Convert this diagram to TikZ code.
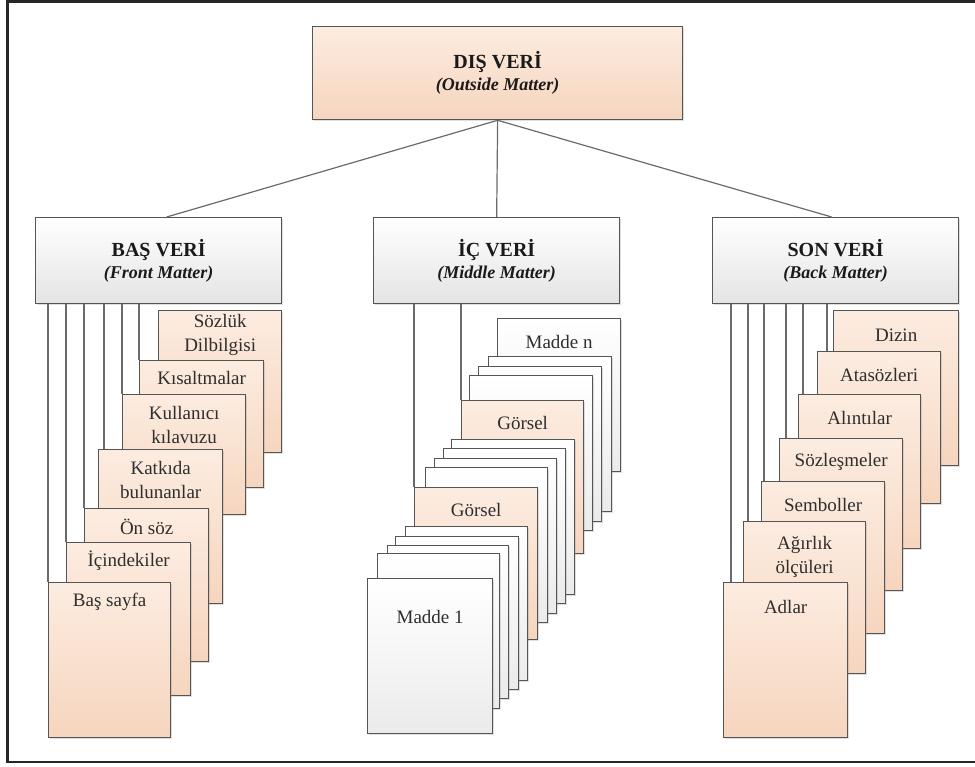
\documentclass[tikz,border=0pt]{standalone}
\usepackage{fontspec}
\setmainfont{Liberation Serif}
\usetikzlibrary{shadows}

\definecolor{peachtop}{HTML}{FCECE0}
\definecolor{peachbot}{HTML}{F6D5BE}
\definecolor{greytop}{HTML}{FFFFFF}
\definecolor{greybot}{HTML}{E4E4E4}
\definecolor{whitebot}{HTML}{EBEBEB}
\definecolor{edge}{HTML}{555555}
\definecolor{wire}{HTML}{6A6A6A}
\definecolor{ink}{HTML}{2E2E2E}
\definecolor{headink}{HTML}{1A1A1A}

\tikzset{
  boxbase/.style={rectangle, draw=edge, line width=1.3pt, inner sep=0pt,
    anchor=north west,
    drop shadow={shadow xshift=1.2pt, shadow yshift=-1.2pt, opacity=0.25}},
  peach/.style={boxbase, top color=peachtop, bottom color=peachbot},
  greyhead/.style={boxbase, top color=greytop, bottom color=greybot},
  whitecard/.style={boxbase, top color=white, bottom color=whitebot},
  lbl/.style={text=ink, align=center, inner sep=0pt,
    font=\fontsize{19}{24}\selectfont},
  headlbl/.style={text=headink, align=center, inner sep=0pt,
    font=\fontsize{20}{23}\selectfont\bfseries},
  wireline/.style={draw=wire, line width=1.2pt},
}

% \cardat{name}{x}{y}{width}{height}{style}
\newcommand\cardat[6]{%
  \node[#6, minimum width=#4pt, minimum height=#5pt] (#1) at (#2,#3) {};}
% \cardlbl{card}{drop from top}{text}
\newcommand\cardlbl[3]{%
  \node[lbl] (#1t) at ([yshift=-#2pt]#1.north) {#3};}
% second line of a heading
\newcommand\engname[1]{{\itshape\fontsize{18}{23}\selectfont (#1)}}

\begin{document}
\begin{tikzpicture}[x=1pt, y=-1pt]
\useasboundingbox (0,0) rectangle (975,767);

% outer frame, open on the right
\draw[line width=2.5pt, color=black!85] (985,1.5) -- (7.5,1.5) -- (7.5,762) -- (985,762);

% ---- top level
\cardat{dis}{312}{26}{370}{93}{peach}
\node[headlbl] (dist) at (dis.center) {DIŞ VERİ\\[-1pt]\engname{Outside Matter}};

% ---- second level
\cardat{bas}{35}{217}{246}{86}{greyhead}
\cardat{ic}{373}{217}{246}{86}{greyhead}
\cardat{son}{712}{217}{246}{86}{greyhead}
\node[headlbl] (bast) at (bas.center) {BAŞ VERİ\\[-1pt]\engname{Front Matter}};
\node[headlbl] (ict) at (ic.center) {İÇ VERİ\\[-1pt]\engname{Middle Matter}};
\node[headlbl] (sont) at (son.center) {SON VERİ\\[-1pt]\engname{Back Matter}};

\draw[wireline] (dis.south) -- ([xshift=8pt]bas.north);
\draw[wireline] (dis.south) -- (ic.north);
\draw[wireline] (dis.south) -- ([xshift=-4pt]son.north);

% ---- front matter pages (back to front)
\cardat{sd}{158}{310}{123}{142}{peach}
\cardat{ks}{139}{360}{124}{127}{peach}
\cardat{kk}{122}{394}{123}{120}{peach}
\cardat{kb}{98}{449}{124}{154}{peach}
\cardat{os}{84}{508}{124}{153}{peach}
\cardat{ik}{66}{542}{124}{153}{peach}
\cardat{bs}{48}{582}{122}{155}{peach}

\draw[wireline] (bas.south -| bs.north west) -- (bs.north west);
\draw[wireline] (bas.south -| ik.north west) -- (ik.north west);
\draw[wireline] (bas.south -| os.north west) -- (os.north west);
\draw[wireline] (bas.south -| kb.north west) ++(6,0) -- ([xshift=6pt]kb.north west);
\draw[wireline] (bas.south -| kk.north west) -- (kk.north west);
\draw[wireline] (bas.south -| ks.north west) -- (ks.north west);

\cardlbl{sd}{25}{Sözlük\\Dilbilgisi}
\cardlbl{ks}{18}{Kısaltmalar}
\cardlbl{kk}{31}{Kullanıcı\\kılavuzu}
\cardlbl{kb}{31}{Katkıda\\bulunanlar}
\cardlbl{os}{19}{Ön söz}
\cardlbl{ik}{19}{İçindekiler}
\cardlbl{bs}{20}{Baş sayfa}

% ---- middle matter pages (back to front)
\cardat{mn}{497}{318}{123}{153}{whitecard}
\cardat{m13}{488}{356}{123}{155}{whitecard}
\cardat{m12}{478}{366}{123}{155}{whitecard}
\cardat{m11}{469}{375}{123}{155}{whitecard}
\cardat{g2}{461}{400}{122}{153}{peach}
\cardat{m9}{451}{439}{123}{155}{whitecard}
\cardat{m8}{443}{448}{122}{155}{whitecard}
\cardat{m7}{434}{458}{122}{155}{whitecard}
\cardat{m6}{425}{467}{122}{155}{whitecard}
\cardat{g1}{414}{487}{123}{152}{peach}
\cardat{m4}{405}{526}{122}{154}{whitecard}
\cardat{m3}{395}{536}{123}{153}{whitecard}
\cardat{m2}{387}{545}{121}{153}{whitecard}
\cardat{m1b}{377}{553}{122}{155}{whitecard}
\cardat{m1}{367}{578}{125}{155}{whitecard}

\draw[wireline] (ic.south -| g1.north west) -- (g1.north west);
\draw[wireline] (ic.south -| g2.north west) -- (g2.north west);

\cardlbl{mn}{24}{Madde n}
\cardlbl{g2}{23}{Görsel}
\cardlbl{g1}{23}{Görsel}
\cardlbl{m1}{39}{Madde 1}

% ---- back matter pages (back to front)
\cardat{dz}{833}{310}{125}{155}{peach}
\cardat{at}{817}{351}{123}{152}{peach}
\cardat{al}{798}{394}{122}{154}{peach}
\cardat{sz}{779}{438}{123}{152}{peach}
\cardat{sm}{761}{481}{123}{152}{peach}
\cardat{ag}{743}{521}{122}{152}{peach}
\cardat{ad}{723}{582}{124}{155}{peach}

\draw[wireline] (son.south -| ad.north west) ++(8,0) -- ([xshift=8pt]ad.north west);
\draw[wireline] (son.south -| ag.north west) ++(5,0) -- ([xshift=5pt]ag.north west);
\draw[wireline] (son.south -| sm.north west) ++(3,0) -- ([xshift=3pt]sm.north west);
\draw[wireline] (son.south -| sz.north west) ++(7,0) -- ([xshift=7pt]sz.north west);
\draw[wireline] (son.south -| al.north west) ++(5,0) -- ([xshift=5pt]al.north west);
\draw[wireline] (son.south -| at.north west) ++(10,0) -- ([xshift=10pt]at.north west);

\cardlbl{dz}{25}{Dizin}
\cardlbl{at}{24}{Atasözleri}
\cardlbl{al}{24}{Alıntılar}
\cardlbl{sz}{24}{Sözleşmeler}
\cardlbl{sm}{24}{Semboller}
\cardlbl{ag}{36}{Ağırlık\\ölçüleri}
\cardlbl{ad}{25}{Adlar}

\end{tikzpicture}
\end{document}
